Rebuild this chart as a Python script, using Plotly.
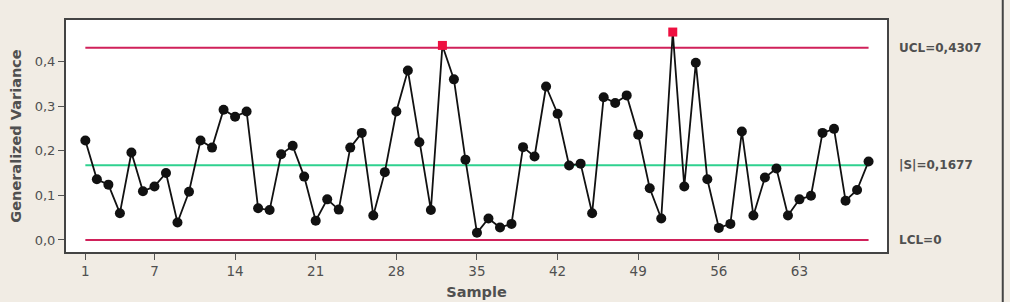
import plotly.graph_objects as go

samples = list(range(1, 70))
gen_var = [0.223, 0.136, 0.124, 0.060, 0.196, 0.109, 0.120, 0.150, 0.039, 0.108,
           0.223, 0.207, 0.292, 0.276, 0.288, 0.071, 0.067, 0.192, 0.211, 0.142,
           0.043, 0.091, 0.068, 0.207, 0.240, 0.055, 0.152, 0.288, 0.380, 0.219,
           0.067, 0.436, 0.360, 0.180, 0.016, 0.048, 0.028, 0.036, 0.208, 0.187,
           0.344, 0.283, 0.167, 0.171, 0.060, 0.320, 0.307, 0.324, 0.236, 0.116,
           0.048, 0.466, 0.120, 0.397, 0.136, 0.027, 0.036, 0.243, 0.055, 0.140,
           0.160, 0.055, 0.091, 0.099, 0.240, 0.249, 0.088, 0.112, 0.176]
ucl = 0.4307
center = 0.1677
lcl = 0.0
x_ticks = [1, 7, 14, 21, 28, 35, 42, 49, 56, 63]
y_ticks = [0.0, 0.1, 0.2, 0.3, 0.4]
limit_labels = ["UCL=0,4307", "|S|=0,1677", "LCL=0"]

in_x = [s for s, v in zip(samples, gen_var) if lcl <= v <= ucl]
in_y = [v for v in gen_var if lcl <= v <= ucl]
out_x = [s for s, v in zip(samples, gen_var) if v > ucl or v < lcl]
out_y = [v for v in gen_var if v > ucl or v < lcl]

fig = go.Figure()
line_x = [samples[0], samples[-1]]
fig.add_trace(go.Scatter(x=line_x, y=[ucl, ucl], mode="lines",
                         line=dict(color="#d0215a", width=2), hoverinfo="skip"))
fig.add_trace(go.Scatter(x=line_x, y=[lcl, lcl], mode="lines",
                         line=dict(color="#d0215a", width=2), hoverinfo="skip"))
fig.add_trace(go.Scatter(x=line_x, y=[center, center], mode="lines",
                         line=dict(color="#2fd18f", width=2), hoverinfo="skip"))
fig.add_trace(go.Scatter(x=samples, y=gen_var, mode="lines",
                         line=dict(color="#111111", width=1.8)))
fig.add_trace(go.Scatter(x=in_x, y=in_y, mode="markers",
                         marker=dict(color="#111111", size=10, symbol="circle")))
fig.add_trace(go.Scatter(x=out_x, y=out_y, mode="markers",
                         marker=dict(color="#ee1040", size=9, symbol="square")))

font_col = "#505050"
for txt, yv in zip(limit_labels, [ucl, center, lcl]):
    fig.add_annotation(x=1.012, xref="paper", y=yv, yref="y", text=txt,
                       showarrow=False, xanchor="left", yanchor="middle",
                       font=dict(family="DejaVu Sans", size=12, color=font_col, weight="bold"))

fig.add_shape(type="line", xref="paper", yref="paper", x0=1.141, x1=1.141, y0=-0.3, y1=1.2,
              line=dict(color="#444444", width=2))

fig.update_layout(
    width=1010, height=302,
    margin=dict(l=66, r=123, t=20, b=50),
    paper_bgcolor="#f1ece4", plot_bgcolor="#ffffff",
    showlegend=False,
    separators=",.",
    font=dict(family="DejaVu Sans", size=12.5, color=font_col),
)
fig.update_xaxes(range=[-0.68, 70.6], tickvals=x_ticks, ticks="outside", ticklen=6,
                 tickcolor="#555555", showgrid=False, zeroline=False, automargin=False,
                 showline=True, linecolor="#444444", linewidth=2, mirror=True,
                 tickfont=dict(size=13.5),
                 title=dict(text="Sample", standoff=9,
                            font=dict(family="DejaVu Sans", size=14.5, color=font_col, weight="bold")))
fig.update_yaxes(range=[-0.027, 0.493], tickvals=y_ticks, tickformat=".1f", ticks="outside",
                 ticklen=6, tickcolor="#555555", showgrid=False, zeroline=False, automargin=False,
                 showline=True, linecolor="#444444", linewidth=2, mirror=True,
                 tickfont=dict(size=13),
                 title=dict(text="Generalized Variance", standoff=10,
                            font=dict(family="DejaVu Sans", size=14.5, color=font_col, weight="bold")))

fig.write_html("out.html")
